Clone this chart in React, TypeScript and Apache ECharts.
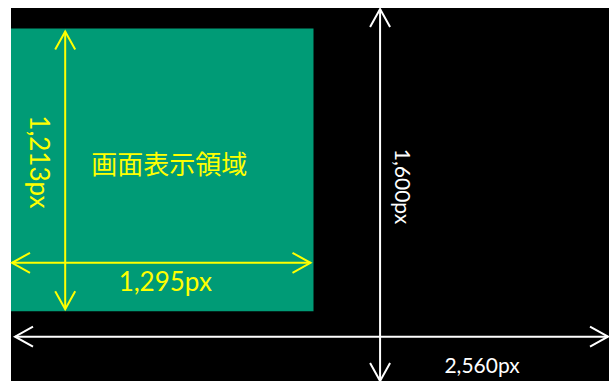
import React, { useEffect, useRef } from "react";
import * as echarts from "echarts";

// Sizes in real pixels (drawn to scale)
const screenSize = [2560, 1600];
const viewportOrigin = [0, 88];
const viewportSize = [1295, 1213];
const screenLabels = ["2,560px", "1,600px"];
const viewportLabels = ["1,295px", "1,213px"];
const regionLabel = "画面表示領域";
// arrow positions (in real pixels)
const yellowArrowPos = [232, 1093]; // x of vertical arrow, y of horizontal arrow
const whiteArrowPos = [1580, 1410];

const YELLOW = "#ffff00";
const GREEN = "#009b76";
const FONT = "Lato, 'Noto Sans', sans-serif";

function arrowH(x1: number, x2: number, y: number, color: string) {
  const L = 18, W = 10;
  return [
    { type: "line", shape: { x1, y1: y, x2, y2: y }, style: { stroke: color, lineWidth: 2 } },
    { type: "polyline", shape: { points: [[x1 + L, y - W], [x1, y], [x1 + L, y + W]] }, style: { stroke: color, lineWidth: 2, fill: null } },
    { type: "polyline", shape: { points: [[x2 - L, y - W], [x2, y], [x2 - L, y + W]] }, style: { stroke: color, lineWidth: 2, fill: null } },
  ];
}
function arrowV(x: number, y1: number, y2: number, color: string) {
  const L = 18, W = 10;
  return [
    { type: "line", shape: { x1: x, y1, x2: x, y2 }, style: { stroke: color, lineWidth: 2 } },
    { type: "polyline", shape: { points: [[x - W, y1 + L], [x, y1], [x + W, y1 + L]] }, style: { stroke: color, lineWidth: 2, fill: null } },
    { type: "polyline", shape: { points: [[x - W, y2 - L], [x, y2], [x + W, y2 - L]] }, style: { stroke: color, lineWidth: 2, fill: null } },
  ];
}
function label(text: string, x: number, y: number, color: string, size: number, rotation = 0, family = FONT) {
  return {
    type: "text",
    x,
    y,
    rotation,
    style: { text, x: 0, y: 0, align: "center", verticalAlign: "middle", fill: color, fontSize: size, fontFamily: family },
  };
}

export default function App() {
  const ref = useRef<HTMLDivElement>(null);
  useEffect(() => {
    if (!ref.current) return;
    const chart = echarts.init(ref.current, null, { renderer: "svg" });
    chart.setOption({
      animation: false,
      grid: { left: 11, top: 8, right: 0, bottom: 0 },
      xAxis: { type: "value", min: 0, max: screenSize[0], show: false },
      yAxis: { type: "value", min: 0, max: screenSize[1], inverse: true, show: false },
      series: [
        {
          type: "custom",
          clip: false,
          data: [[0, 0]],
          renderItem: (params: any, api: any) => {
            const s0 = api.coord([0, 0]);
            const s1 = api.coord(screenSize);
            const v0 = api.coord(viewportOrigin);
            const v1 = api.coord([viewportOrigin[0] + viewportSize[0], viewportOrigin[1] + viewportSize[1]]);
            const yv = api.coord([yellowArrowPos[0], yellowArrowPos[1]]);
            const wv = api.coord([whiteArrowPos[0], whiteArrowPos[1]]);
            const gcx = (v0[0] + v1[0]) / 2;
            const gcy = (v0[1] + v1[1]) / 2;
            const scy = (s0[1] + s1[1]) / 2;
            const children: any[] = [
              { type: "rect", shape: { x: s0[0], y: s0[1], width: s1[0] - s0[0], height: s1[1] - s0[1] }, style: { fill: "#000" } },
              { type: "rect", shape: { x: v0[0], y: v0[1], width: v1[0] - v0[0], height: v1[1] - v0[1] }, style: { fill: GREEN } },
              ...arrowV(yv[0], v0[1] + 3, v1[1] - 2, YELLOW),
              ...arrowH(v0[0] + 1, v1[0] - 3, yv[1], YELLOW),
              ...arrowV(wv[0], s0[1] + 1, s1[1], "#fff"),
              ...arrowH(s0[0] + 4, s1[0] - 1, wv[1], "#fff"),
              label(viewportLabels[0], gcx + 3, yv[1] + 18, YELLOW, 26),
              label(viewportLabels[1], yv[0] - 25, gcy - 8, YELLOW, 26, -Math.PI / 2),
              label(regionLabel, gcx + 7, gcy - 7, YELLOW, 26, 0, "'Noto Sans CJK JP', sans-serif"),
              label(screenLabels[1], wv[0] + 23, scy - 8, "#fff", 21, -Math.PI / 2),
              label(screenLabels[0], wv[0] + 102, wv[1] + 28, "#fff", 21),
            ];
            return { type: "group", children };
          },
        },
      ],
    });
    return () => chart.dispose();
  }, []);
  return <div ref={ref} style={{ position: "absolute", left: 0, top: 0, width: 609, height: 381 }} />;
}
